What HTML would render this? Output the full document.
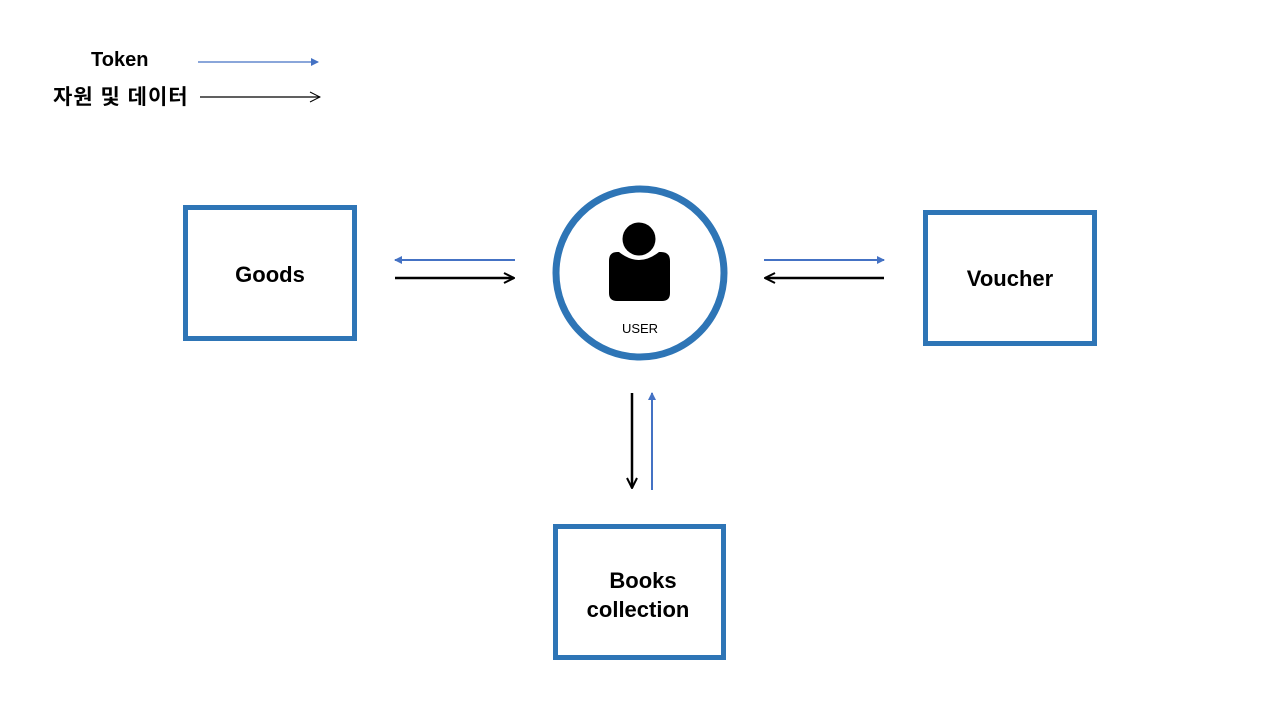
<!DOCTYPE html>
<html><head><meta charset="utf-8"><style>body{margin:0;background:#fff}svg{display:block}text{font-family:"Liberation Sans","Noto Sans CJK KR",sans-serif;font-weight:bold;fill:#000}</style></head><body>
<svg width="1280" height="720" viewBox="0 0 1280 720">
<defs>
<marker id="b" markerWidth="8" markerHeight="8" refX="7" refY="4" orient="auto" markerUnits="userSpaceOnUse"><path d="M0,0 L8,4 L0,8z" fill="#4472c4"/></marker>
<marker id="k" markerWidth="12" markerHeight="12" refX="11" refY="6" orient="auto" markerUnits="userSpaceOnUse"><path d="M1,1 L11,6 L1,11" fill="none" stroke="#000" stroke-width="2"/></marker>
<marker id="k2" markerWidth="12" markerHeight="12" refX="11" refY="6" orient="auto" markerUnits="userSpaceOnUse"><path d="M1,1 L11,6 L1,11" fill="none" stroke="#000" stroke-width="1"/></marker>
</defs>
<text x="91" y="66" font-size="20">Token</text>
<text x="53" y="104" font-size="21" letter-spacing="1">자원 및 데이터</text>
<line x1="198" y1="62" x2="318" y2="62" stroke="#4472c4" stroke-width="1.3" marker-end="url(#b)"/>
<line x1="200" y1="97" x2="320" y2="97" stroke="#000" stroke-width="1.3" marker-end="url(#k2)"/>
<g fill="none" stroke="#2e75b6" stroke-width="5">
<rect x="185.5" y="207.5" width="169" height="131"/>
<rect x="925.5" y="212.5" width="169" height="131"/>
<rect x="555.5" y="526.5" width="168" height="131"/>
</g>
<circle cx="640" cy="273" r="84" fill="none" stroke="#2e75b6" stroke-width="7"/>
<circle cx="639" cy="239" r="16.5" fill="#000"/>
<path d="M619,252 Q639,268 659,252 L661,252 Q670,252 670,261 L670,293 Q670,301 662,301 L617,301 Q609,301 609,293 L609,261 Q609,252 617,252z" fill="#000"/>
<text x="640" y="333" font-size="13" text-anchor="middle" style="font-weight:normal">USER</text>
<text x="270" y="282" font-size="22" text-anchor="middle">Goods</text>
<text x="1010" y="286" font-size="22" text-anchor="middle">Voucher</text>
<text x="643" y="588" font-size="22" text-anchor="middle">Books</text>
<text x="638" y="617" font-size="22" text-anchor="middle">collection</text>
<line x1="515" y1="260" x2="395" y2="260" stroke="#4472c4" stroke-width="2" marker-end="url(#b)"/>
<line x1="395" y1="278" x2="514" y2="278" stroke="#000" stroke-width="2.5" marker-end="url(#k)"/>
<line x1="764" y1="260" x2="884" y2="260" stroke="#4472c4" stroke-width="2" marker-end="url(#b)"/>
<line x1="884" y1="278" x2="765" y2="278" stroke="#000" stroke-width="2.5" marker-end="url(#k)"/>
<line x1="632" y1="393" x2="632" y2="488" stroke="#000" stroke-width="2.5" marker-end="url(#k)"/>
<line x1="652" y1="490" x2="652" y2="393" stroke="#4472c4" stroke-width="2" marker-end="url(#b)"/>
</svg>
</body></html>
